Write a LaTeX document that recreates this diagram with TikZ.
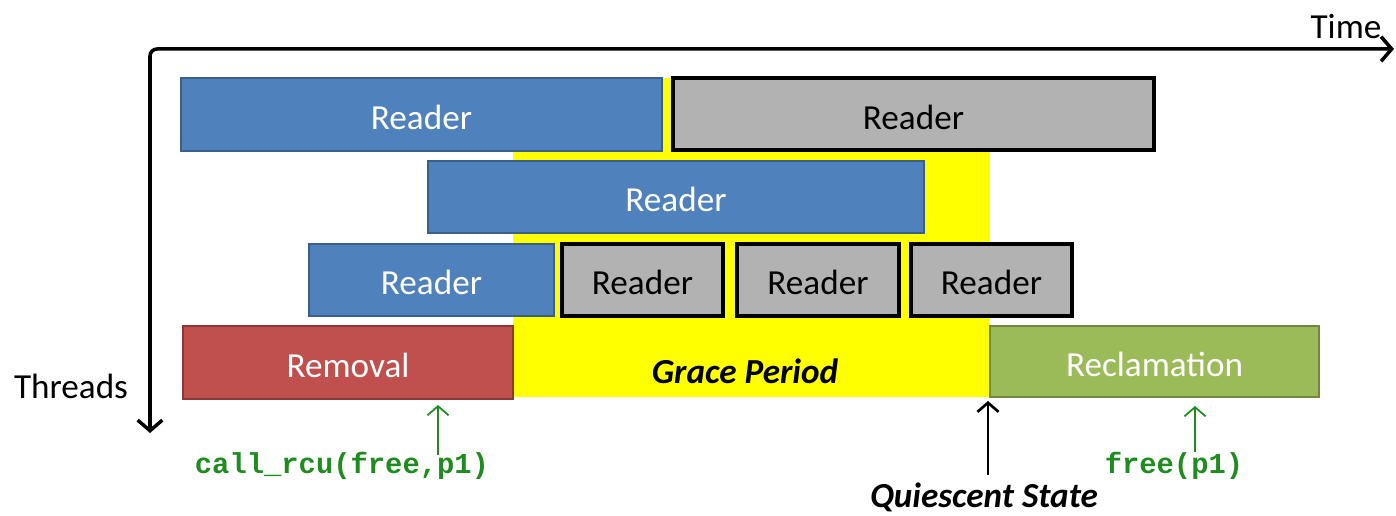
\documentclass[tikz,border=0pt]{standalone}
\usepackage{fontspec}
\setmainfont{Carlito}
\newfontfamily\codefont{Liberation Mono}
\usetikzlibrary{arrows.meta}
\definecolor{rblue}{HTML}{4F81BD}
\definecolor{rblueline}{HTML}{3A5F8B}
\definecolor{rgray}{HTML}{B2B2B2}
\definecolor{rred}{HTML}{C0504D}
\definecolor{rredline}{HTML}{8C3836}
\definecolor{rgreen}{HTML}{9BBB59}
\definecolor{rgreenline}{HTML}{71893F}
\definecolor{codegreen}{HTML}{1E8C1E}
\definecolor{graceyellow}{HTML}{FFFF00}
\tikzset{
  lbl/.style={font=\fontsize{10}{12}\selectfont, inner sep=0pt},
  blk/.style={lbl, rectangle, minimum height=0.72cm, text height=0.3cm, text depth=0pt},
  bluebox/.style={blk, fill=rblue, draw=rblueline, line width=0.5pt, text=white},
  graybox/.style={blk, fill=rgray, draw=black, line width=1pt, text=black},
  redbox/.style={blk, fill=rred, draw=rredline, line width=0.5pt, text=white},
  greenbox/.style={blk, fill=rgreen, draw=rgreenline, line width=0.5pt, text=white},
  code/.style={font=\codefont\bfseries\fontsize{8.2}{10}\selectfont, text=codegreen, inner sep=0pt},
  barb/.style={-{Straight Barb[length=2.6pt,width=6pt]}},
}
\begin{document}
\begin{tikzpicture}[x=0.01cm, y=-0.01cm]
\useasboundingbox (0,0) rectangle (1396,516);

% grace period band
\fill[graceyellow] (513,78) rectangle (990,397);
\node[lbl, font=\fontsize{10}{12}\selectfont\bfseries\itshape] (grace) at (745,371) {Grace Period};

% axes
\coordinate (origin) at (150,49);
\coordinate (tend) at (1394,49);
\coordinate (thend) at (150,433);
\draw[line width=1pt, rounded corners=2pt, {Straight Barb[length=3pt,width=7pt]}-{Straight Barb[length=3pt,width=7pt]}]
  (thend) -- (origin) -- (tend);
\node[lbl] (time) at (1346,27) {Time};
\node[lbl] (threads) at (71,386) {Threads};

% first row of readers
\node[bluebox, minimum width=4.81cm, minimum height=0.73cm] (r1a) at (421.5,114.5) {Reader};
\node[graybox, minimum width=4.81cm] (r1b) at (913.5,114) {Reader};

% second row
\node[bluebox, minimum width=4.96cm] (r2a) at (676,197) {Reader};

% third row
\node[bluebox, minimum width=2.45cm] (r3a) at (431.5,280) {Reader};
\node[graybox, minimum width=1.61cm] (r3b) at (642.5,280) {Reader};
\node[graybox, minimum width=1.62cm] (r3c) at (818,280) {Reader};
\node[graybox, minimum width=1.61cm] (r3d) at (991.5,280) {Reader};

% updater phases
\node[redbox, minimum width=3.30cm, minimum height=0.73cm] (removal) at (348,362.5) {Removal};
\node[greenbox, minimum width=3.29cm, minimum height=0.71cm] (reclaim) at (1154.5,361.5) {Reclamation};

% events
\node[code] (callrcu) at (342,466) {call\_rcu(free,p1)};
\coordinate (callfrom) at (438,455);
\coordinate (callto) at (438,405);
\draw[barb, codegreen, line width=0.5pt] (callfrom) -- (callto);

\node[code] (freep) at (1174,466) {free(p1)};
\coordinate (freefrom) at (1195,452);
\coordinate (freeto) at (1195,406);
\draw[barb, codegreen, line width=0.5pt] (freefrom) -- (freeto);

\node[lbl, font=\fontsize{10}{12}\selectfont\bfseries\itshape] (qs) at (984,497) {Quiescent State};
\coordinate (qsfrom) at (988,475);
\coordinate (qsto) at (988,401);
\draw[barb, line width=0.75pt] (qsfrom) -- (qsto);
\end{tikzpicture}
\end{document}
